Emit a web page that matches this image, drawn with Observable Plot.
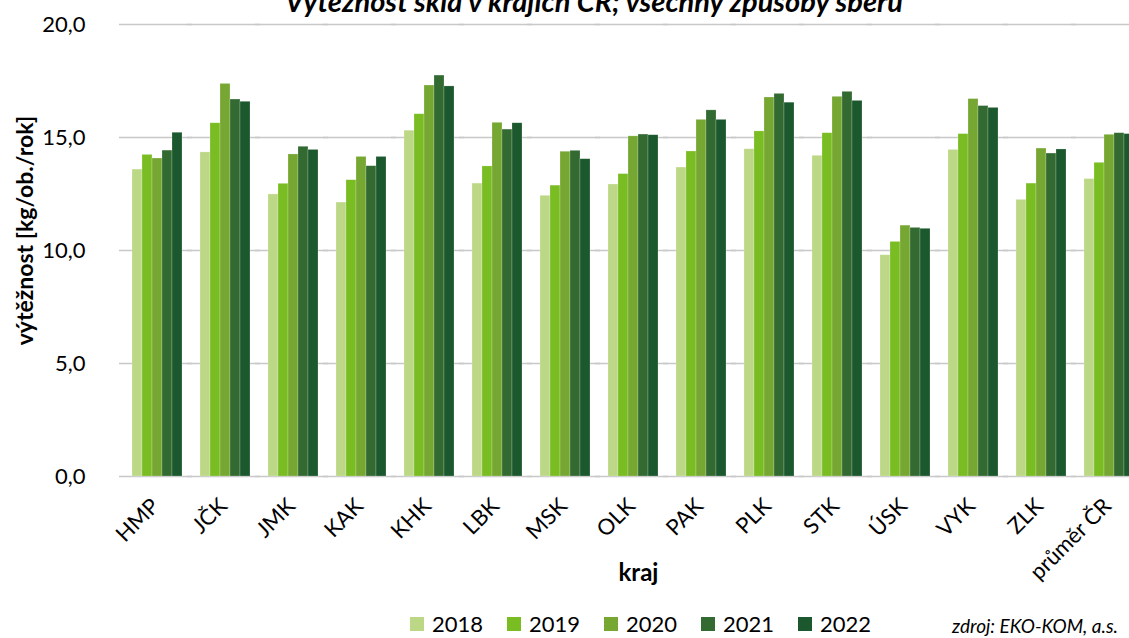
<!DOCTYPE html>
<html><head><meta charset="utf-8">
<script src="https://cdn.jsdelivr.net/npm/d3@7"></script>
<script src="https://cdn.jsdelivr.net/npm/@observablehq/plot@0.6"></script>
<style>
html,body{margin:0;padding:0;overflow:hidden;background:#fff;font-family:Lato,"Open Sans",sans-serif;}
#wrap{position:relative;width:1129px;height:638px;overflow:hidden;}
#title{position:absolute;top:-16px;left:0;width:1188px;text-align:center;font-weight:bold;font-style:italic;font-size:29px;line-height:1.2;white-space:nowrap;color:#000;}
#chart{position:absolute;top:0;left:0;}
.leg{position:absolute;top:613px;display:flex;align-items:center;font-size:22px;color:#000;line-height:1;}
.sw{width:14px;height:14px;margin-right:8px;}
#src{position:absolute;right:11px;top:616px;font-style:italic;font-size:19px;line-height:1;color:#000;white-space:nowrap;}
</style></head>
<body><div id="wrap"><div id="title">Výtěžnost skla v krajích ČR; všechny způsoby sběru</div><div id="chart"></div><div id="src">zdroj: EKO-KOM, a.s.</div></div>
<script>
const kraje = ["HMP","JČK","JMK","KAK","KHK","LBK","MSK","OLK","PAK","PLK","STK","ÚSK","VYK","ZLK","průměr ČR"];
const years = ["2018","2019","2020","2021","2022"];
const v2018 = [13.58,14.34,12.48,12.12,15.30,12.96,12.42,12.92,13.67,14.48,14.19,9.79,14.45,12.24,13.16];
const v2019 = [14.23,15.63,12.95,13.11,16.03,13.72,12.87,13.38,14.38,15.27,15.19,10.38,15.15,12.96,13.88];
const v2020 = [14.07,17.37,14.25,14.14,17.30,15.65,14.37,15.05,15.78,16.77,16.80,11.10,16.70,14.51,15.12];
const v2021 = [14.42,16.68,14.59,13.73,17.74,15.35,14.41,15.13,16.20,16.93,17.02,11.00,16.39,14.29,15.19];
const v2022 = [15.21,16.58,14.45,14.14,17.26,15.63,14.04,15.10,15.78,16.54,16.62,10.96,16.31,14.47,15.15];
const yTicks = [0,5,10,15,20];
const colors = ["#bcd886","#7abd22","#76a733","#326a32","#1b582e"];

const series = [v2018,v2019,v2020,v2021,v2022];
const data = [];
kraje.forEach((k,i)=>years.forEach((y,j)=>data.push({kraj:k, year:y, value:series[j][i]})));
const fmt = d => d.toFixed(1).replace(".", ",");
const first = kraje[0];

const chart = Plot.plot({
  width:1129, height:600,
  marginTop:24, marginBottom:124, marginLeft:122, marginRight:-16,
  style:{fontFamily:"Lato, 'Open Sans', sans-serif", fontSize:"20px", color:"#000", background:"transparent", overflow:"hidden"},
  fx:{domain:kraje, paddingInner:0.235, paddingOuter:0.12, axis:null, label:null},
  x:{domain:years, padding:0, axis:null},
  y:{domain:[0,20], axis:null},
  color:{domain:years, range:colors},
  marks:[
    Plot.ruleY(yTicks, {stroke:"#c8c8c8", strokeWidth:1.3, insetLeft:-12, insetRight:-9}),
    Plot.barY(data, {fx:"kraj", x:"year", y:"value", fill:"year", stroke:"#ffffff", strokeOpacity:0.35, strokeWidth:0.6}),
    Plot.text(yTicks, {fx:()=>first, y:d=>d, text:fmt, frameAnchor:"left", textAnchor:"end", dx:-46, fontSize:22}),
    Plot.text(["výtěžnost [kg/ob./rok]"], {facet:"super", frameAnchor:"left", textAnchor:"middle", rotate:-90, dx:-106, dy:-20, fontWeight:"bold", fontSize:23}),
    Plot.text(kraje, {fx:d=>d, text:d=>d, frameAnchor:"bottom", rotate:-45, textAnchor:"end", lineAnchor:"top", dx:-8, dy:20, fontSize:22}),
    Plot.text(["kraj"], {facet:"super", frameAnchor:"bottom", dy:104, dx:5, fontWeight:"bold", fontSize:24})
  ]
});
document.getElementById("chart").appendChild(chart);

const wrap = document.getElementById("wrap");
years.forEach((y,i)=>{
  const it = document.createElement("div");
  it.className = "leg";
  it.style.left = (410 + i*97) + "px";
  it.innerHTML = `<div class="sw" style="background:${colors[i]}"></div><span>${y}</span>`;
  wrap.appendChild(it);
});
</script></body></html>
